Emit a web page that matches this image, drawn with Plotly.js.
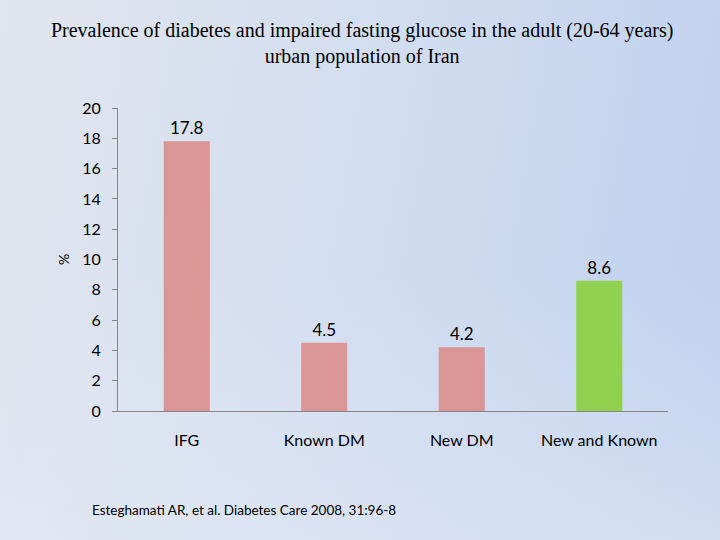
<!DOCTYPE html>
<html>
<head>
<meta charset="utf-8">
<script src="https://cdn.plot.ly/plotly-3.0.1.min.js"></script>
<style>
html, body { margin: 0; padding: 0; }
body {
  width: 720px; height: 540px; overflow: hidden;
  background: linear-gradient(100deg, #e2e6ee 0%, #d3def0 45%, #bfd0ee 100%);
}
#wrap { position: relative; width: 720px; height: 540px;
  background: linear-gradient(to bottom, rgba(255,255,255,0) 50%, rgba(230,236,248,0.45) 100%); }
#chart { width: 720px; height: 540px; }
</style>
</head>
<body>
<div id="wrap"><div id="chart"></div></div>
<script>
const categories = ["IFG", "Known DM", "New DM", "New and Known"];
const values = [17.8, 4.5, 4.2, 8.6];
const barColors = ["#d99694", "#d99694", "#d99694", "#92d050"];
const yTicks = [0, 2, 4, 6, 8, 10, 12, 14, 16, 18, 20];
const titleText = "Prevalence of diabetes and impaired fasting glucose in the adult (20-64 years)<br>urban population of Iran";
const sourceText = "Esteghamati AR, et al. Diabetes Care 2008, 31:96-8";

const bodyFont = "Lato, 'Open Sans', sans-serif";

const trace = {
  type: "bar",
  x: categories,
  y: values,
  marker: { color: barColors },
  text: values.map(v => v.toFixed(1)),
  textposition: "outside",
  cliponaxis: false,
  textfont: { family: bodyFont, size: 17, color: "#000" },
  hoverinfo: "none"
};

const layout = {
  width: 720, height: 540,
  paper_bgcolor: "rgba(0,0,0,0)",
  plot_bgcolor: "rgba(0,0,0,0)",
  margin: { l: 118, r: 52, t: 108, b: 129 },
  bargap: 0.665,
  showlegend: false,
  title: {
    text: titleText,
    font: { family: "'Liberation Serif', 'Times New Roman', serif", size: 20, color: "#000" },
    x: 0.503, xanchor: "center", y: 0.931, yanchor: "top"
  },
  xaxis: {
    type: "category",
    showline: true, linecolor: "#868686", linewidth: 1,
    ticks: "", showgrid: false, zeroline: false,
    tickfont: { family: bodyFont, size: 16, color: "#000" },
    ticklabelstandoff: 15
  },
  yaxis: {
    range: [0, 20],
    tickvals: yTicks,
    ticktext: yTicks.map(String),
    showline: true, linecolor: "#868686", linewidth: 1,
    ticks: "outside", ticklen: 5, tickcolor: "#868686",
    showgrid: false, zeroline: false,
    tickfont: { family: bodyFont, size: 16, color: "#000" },
    ticklabelstandoff: 8,
    title: { text: "%", font: { family: bodyFont, size: 14, color: "#000" }, standoff: 9 }
  },
  annotations: [{
    text: sourceText,
    xref: "paper", yref: "paper",
    x: (90 - 118) / 550, xanchor: "left",
    y: -(510 - 411) / 303, yanchor: "middle",
    showarrow: false,
    font: { family: bodyFont, size: 13.5, color: "#000" }
  }]
};

Plotly.newPlot("chart", [trace], layout, { displayModeBar: false, staticPlot: true });
</script>
</body>
</html>
